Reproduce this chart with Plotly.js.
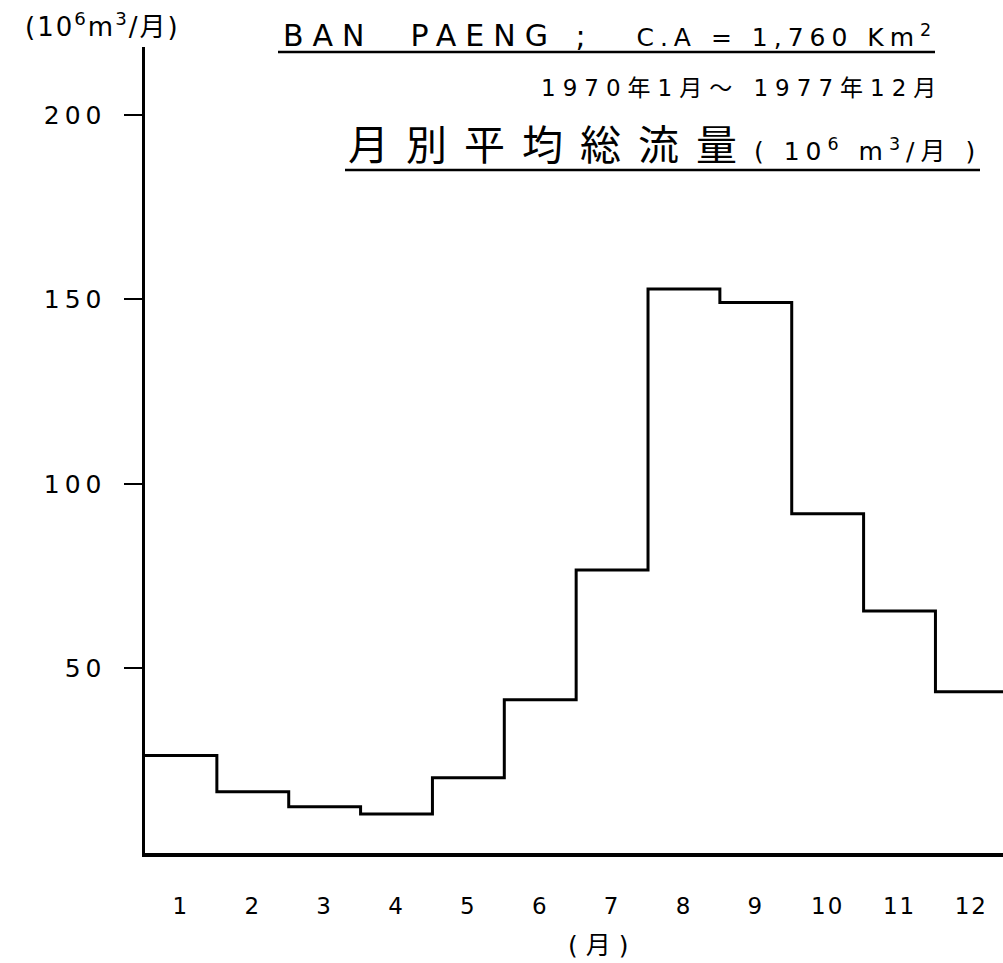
<!DOCTYPE html>
<html>
<head>
<meta charset="utf-8">
<script src="https://cdn.plot.ly/plotly-3.0.1.min.js"></script>
<style>
  html, body { margin: 0; padding: 0; background: #fff; }
  #chart { width: 1003px; height: 963px; }
  .ytick text { letter-spacing: 5px; }
  .xtick text { letter-spacing: 2px; }
</style>
</head>
<body>
<div id="chart"></div>
<script>
// ---- data ----
const months = [1, 2, 3, 4, 5, 6, 7, 8, 9, 10, 11, 12];
const monthLabels = ["1", "2", "3", "4", "5", "6", "7", "8", "9", "10", "11", "12"];
const flow = [26.4, 16.6, 12.5, 10.6, 20.4, 41.5, 76.7, 152.8, 149.2, 91.9, 65.6, 43.7];
const yTicks = [50, 100, 150, 200];

// step outline: bin edges derived from months
const edgesX = months.map(m => m - 0.5).concat([months[months.length - 1] + 0.5]);
const edgesY = flow.concat([flow[flow.length - 1]]);

const W = 1003, H = 963;
const L = 145, R = 0, T = 47, B = 110;
const pw = W - L - R, ph = H - T - B;
const px = v => (v - L) / pw;
const py = v => (H - B - v) / ph;

const FONT = "DejaVu Sans, Noto Sans CJK JP, sans-serif";

const trace = {
  type: "scatter",
  mode: "lines",
  x: edgesX,
  y: edgesY,
  line: { shape: "hv", color: "#000", width: 3 },
  hoverinfo: "skip",
  showlegend: false
};

const layout = {
  width: W, height: H,
  margin: { l: L, r: R, t: T, b: B, pad: 0 },
  paper_bgcolor: "#fff",
  plot_bgcolor: "#fff",
  font: { family: FONT, color: "#000" },
  showlegend: false,
  xaxis: {
    range: [0.5, 12.44],
    tickmode: "array",
    tickvals: months,
    ticktext: monthLabels,
    ticks: "",
    showgrid: false,
    zeroline: false,
    showline: true,
    linecolor: "#000",
    linewidth: 3.5,
    tickfont: { size: 23, family: FONT, color: "#000" },
    ticklabelstandoff: 30,
    fixedrange: true
  },
  yaxis: {
    range: [0, 218.4],
    tickmode: "array",
    tickvals: yTicks,
    ticktext: yTicks.map(String),
    ticks: "outside",
    ticklen: 18,
    tickwidth: 2,
    tickcolor: "#000",
    showgrid: false,
    zeroline: false,
    showline: true,
    linecolor: "#000",
    linewidth: 3.5,
    tickfont: { size: 25, family: FONT, color: "#000" },
    ticklabelstandoff: 12,
    fixedrange: true
  },
  annotations: [
    {
      xref: "paper", yref: "paper",
      x: px(102), y: py(25), xanchor: "center", yanchor: "middle",
      showarrow: false,
      text: '<span style="letter-spacing:2px">(10<sup>6</sup>m<sup>3</sup>/月)</span>',
      font: { size: 26, family: FONT, color: "#000" }
    },
    {
      xref: "paper", yref: "paper",
      x: px(281), y: py(36), xanchor: "left", yanchor: "middle",
      showarrow: false,
      text: '<span style="font-size:30px;letter-spacing:9px">BAN\u00a0\u00a0PAENG\u00a0;</span>' +
            '<span style="font-size:25px;letter-spacing:6px">\u00a0\u00a0\u00a0C.A\u00a0=\u00a01,760\u00a0Km<sup>2</sup></span>',
      font: { size: 28, family: FONT, color: "#000" }
    },
    {
      xref: "paper", yref: "paper",
      x: px(945), y: py(88), xanchor: "right", yanchor: "middle",
      showarrow: false,
      text: '<span style="letter-spacing:7px">1970年1月～\u00a01977年12月</span>',
      font: { size: 23, family: FONT, color: "#000" }
    },
    {
      xref: "paper", yref: "paper",
      x: px(346), y: py(146), xanchor: "left", yanchor: "middle",
      showarrow: false,
      text: '<span style="font-size:41px;letter-spacing:17px">月別平均総流量</span>' +
            '<span style="font-size:25px;letter-spacing:6px">(\u00a010<sup>6</sup>\u00a0m<sup>3</sup>/月\u00a0)</span>',
      font: { size: 41, family: FONT, color: "#000" }
    },
    {
      xref: "paper", yref: "paper",
      x: px(598), y: py(945), xanchor: "center", yanchor: "middle",
      showarrow: false,
      text: '(\u00a0月\u00a0)',
      font: { size: 25, family: FONT, color: "#000" }
    }
  ],
  shapes: [
    {
      type: "line", xref: "paper", yref: "paper",
      x0: px(278), x1: px(935), y0: py(52), y1: py(52),
      line: { color: "#000", width: 2.5 }
    },
    {
      type: "line", xref: "paper", yref: "paper",
      x0: px(345), x1: px(980), y0: py(170), y1: py(170),
      line: { color: "#000", width: 2.5 }
    }
  ]
};

Plotly.newPlot("chart", [trace], layout, { staticPlot: true, displayModeBar: false });
</script>
</body>
</html>
